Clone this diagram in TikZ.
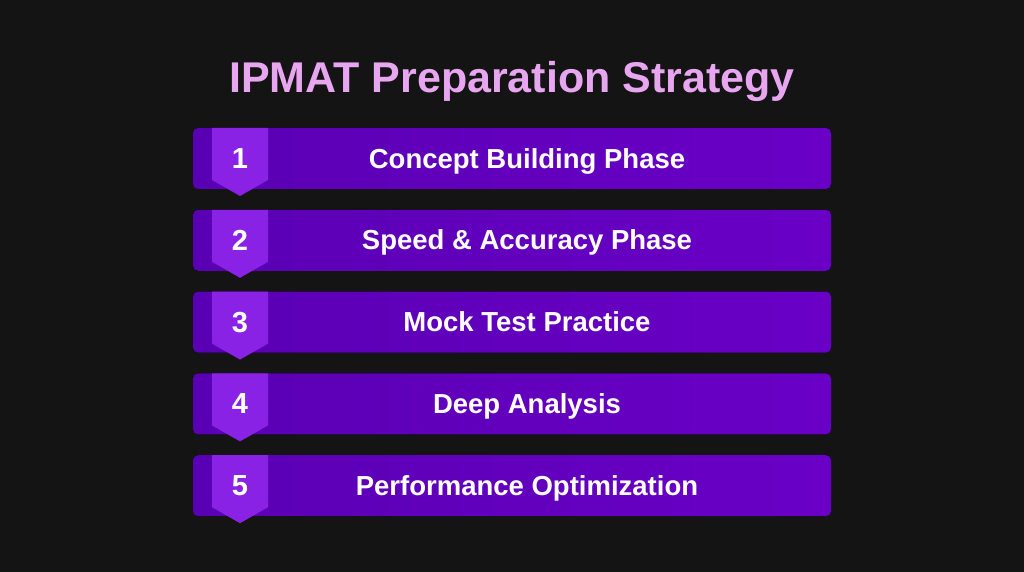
\documentclass[tikz,border=0pt]{standalone}
\usepackage{fontspec}
\setmainfont{Liberation Sans}
\definecolor{bg}{HTML}{141414}
\definecolor{titlec}{HTML}{E8A6F0}
\definecolor{barL}{HTML}{5A00B4}
\definecolor{barR}{HTML}{6A00C6}
\definecolor{badgec}{HTML}{8A22E6}
\begin{document}
\begin{tikzpicture}[x=1pt,y=-1pt,
  barbox/.style={rounded corners=5pt, left color=barL, right color=barR, draw=none},
  badgeshape/.style={fill=badgec, draw=none},
  numtext/.style={text=white, anchor=base, font=\bfseries\fontsize{29}{32}\selectfont},
  bartext/.style={text=white, anchor=base, font=\bfseries\fontsize{27.5}{32}\selectfont}]
\fill[bg] (0,0) rectangle (1024,572);
\useasboundingbox (0,0) rectangle (1024,572);
\node[text=titlec, anchor=base, font=\bfseries\fontsize{43}{48}\selectfont] (title) at (512,93) {IPMAT Preparation Strategy};
\foreach \i/\t [count=\k from 0] in {1/Concept Building Phase,2/Speed \& Accuracy Phase,3/Mock Test Practice,4/Deep Analysis,5/Performance Optimization}{
  \pgfmathsetmacro{\yt}{128+81.8*\k}
  \fill[barbox] (193,\yt) rectangle (831,\yt+61);
  \fill[badgeshape] (212,\yt) -- (268,\yt) -- (268,\yt+52) -- (240,\yt+68) -- (212,\yt+52) -- cycle;
  \node[numtext] (n\i) at (240,\yt+40.5) {\i};
  \node[bartext] (b\i) at (527,\yt+40) {\t};
}
\end{tikzpicture}
\end{document}
